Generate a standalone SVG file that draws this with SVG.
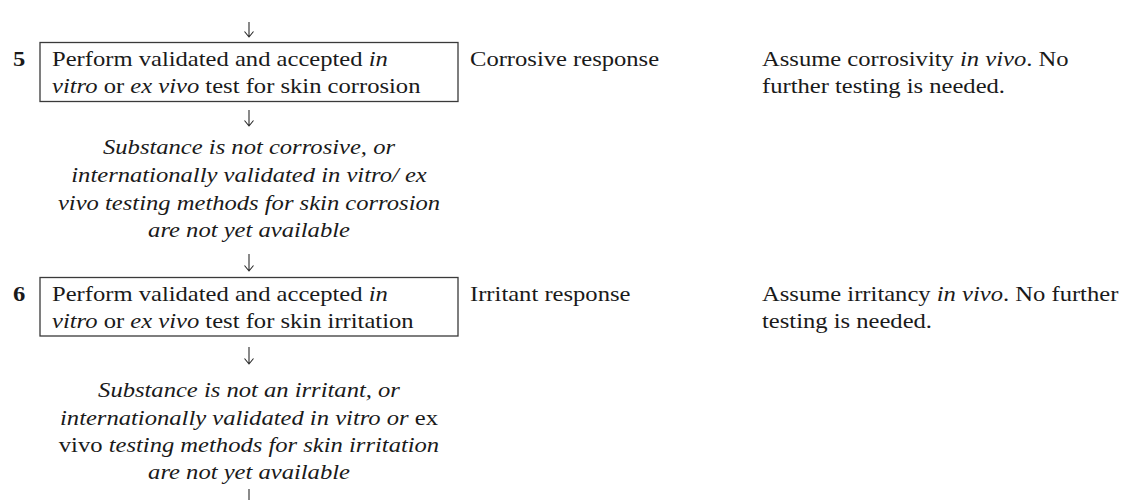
<svg xmlns="http://www.w3.org/2000/svg" width="1125" height="500" viewBox="0 0 1125 500">
<style>
text{font-family:"Liberation Serif","Times New Roman",serif;font-size:20.5px;fill:#1a1a1a}
.it{font-style:italic}
.num{font-weight:bold}
.mid{text-anchor:middle}
.box{fill:none;stroke:#3a3a3a;stroke-width:1.3}
.arr{fill:none;stroke:#2a2a2a;stroke-width:1.1}
</style>
<rect width="1125" height="500" fill="#fff"/>
<g id="connectors">
<path class="arr" d="M249 22V37M244.5 31.5L249 37L253.5 31.5"/>
<path class="arr" d="M249 110V126M244.5 120.5L249 126L253.5 120.5"/>
<path class="arr" d="M249 254V271M244.5 265.5L249 271L253.5 265.5"/>
<path class="arr" d="M249 347V364M244.5 358.5L249 364L253.5 358.5"/>
<path class="arr" d="M249 489V500"/>
</g>
<g id="step5">
<rect class="box" x="40" y="42.5" width="418" height="59"/>
<text class="num" transform="translate(13 66) scale(1.2 1)">5</text>
<text transform="translate(52 66) scale(1.2 1)">Perform validated and accepted <tspan class="it">in</tspan></text>
<text transform="translate(52 93) scale(1.2 1)"><tspan class="it">vitro</tspan> or <tspan class="it">ex vivo</tspan> test for skin corrosion</text>
</g>
<g id="corrosive-response">
<text transform="translate(470 66) scale(1.2 1)">Corrosive response</text>
</g>
<g id="assume-corrosivity">
<text transform="translate(762 66) scale(1.2 1)">Assume corrosivity <tspan class="it">in vivo</tspan>. No</text>
<text transform="translate(762 93) scale(1.2 1)">further testing is needed.</text>
</g>
<g id="not-corrosive">
<text class="it mid" transform="translate(249 154) scale(1.2 1)">Substance is not corrosive, or</text>
<text class="it mid" transform="translate(249 182) scale(1.2 1)">internationally validated in vitro/ ex</text>
<text class="it mid" transform="translate(249 210) scale(1.2 1)">vivo testing methods for skin corrosion</text>
<text class="it mid" transform="translate(249 237) scale(1.2 1)">are not yet available</text>
</g>
<g id="step6">
<rect class="box" x="40" y="277.5" width="418" height="58.5"/>
<text class="num" transform="translate(13 301) scale(1.2 1)">6</text>
<text transform="translate(52 301) scale(1.2 1)">Perform validated and accepted <tspan class="it">in</tspan></text>
<text transform="translate(52 328) scale(1.2 1)"><tspan class="it">vitro</tspan> or <tspan class="it">ex vivo</tspan> test for skin irritation</text>
</g>
<g id="irritant-response">
<text transform="translate(470 301) scale(1.2 1)">Irritant response</text>
</g>
<g id="assume-irritancy">
<text transform="translate(762 301) scale(1.2 1)">Assume irritancy <tspan class="it">in vivo</tspan>. No further</text>
<text transform="translate(762 328) scale(1.2 1)">testing is needed.</text>
</g>
<g id="not-irritant">
<text class="it mid" transform="translate(249 397) scale(1.2 1)">Substance is not an irritant, or</text>
<text class="mid" transform="translate(249 425) scale(1.2 1)"><tspan class="it">internationally validated in vitro or</tspan> ex</text>
<text class="mid" transform="translate(249 452) scale(1.2 1)">vivo <tspan class="it">testing methods for skin irritation</tspan></text>
<text class="it mid" transform="translate(249 479) scale(1.2 1)">are not yet available</text>
</g>
</svg>
